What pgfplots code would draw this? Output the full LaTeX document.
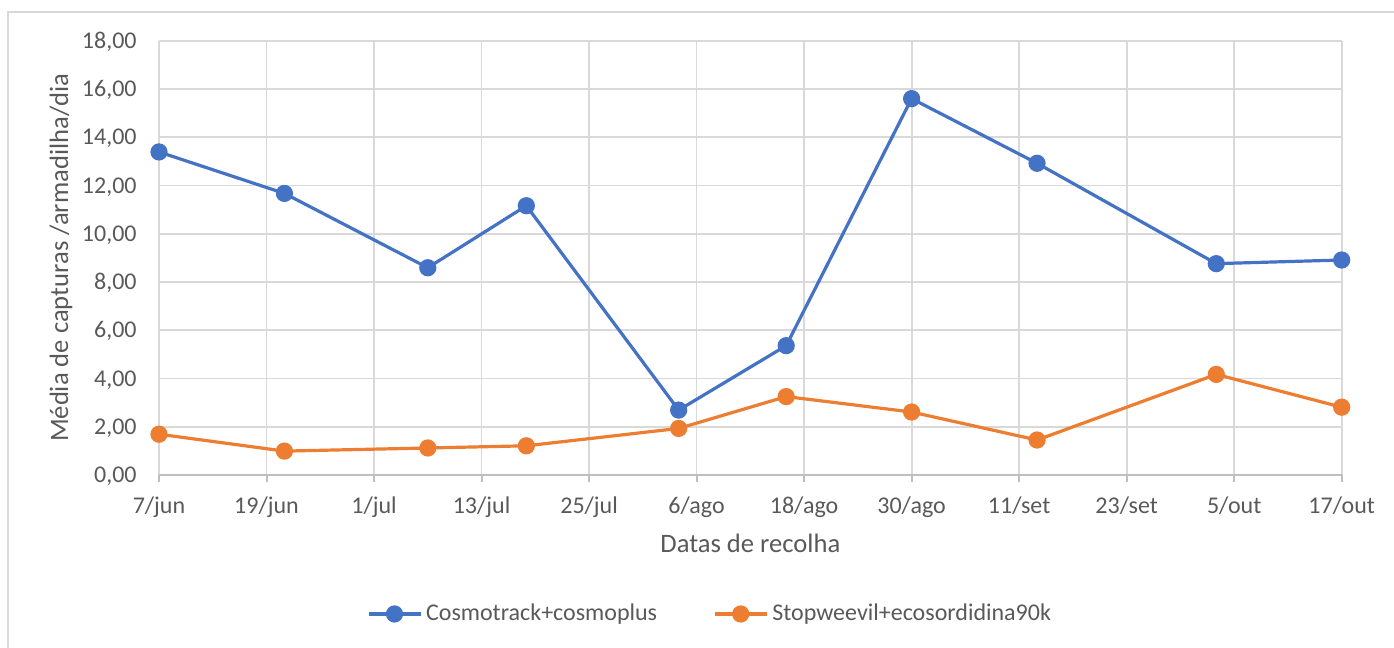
\documentclass[border=0pt]{standalone}
\usepackage{pgfplots}
\pgfplotsset{compat=1.18}
\usepackage{fontspec}
\setmainfont{Carlito}
\definecolor{cblue}{HTML}{4472C4}
\definecolor{corange}{HTML}{ED7D31}
\definecolor{gridc}{HTML}{D9D9D9}
\definecolor{axc}{HTML}{BFBFBF}
\definecolor{txt}{HTML}{595959}
\begin{document}
\begin{tikzpicture}
\useasboundingbox (-79.5pt,-86.5pt) rectangle (617.5pt,237.5pt);
\draw[gridc, line width=1pt] (-75.5pt,-86.5pt) -- (-75.5pt,231.5pt) -- (617.5pt,231.5pt);
\begin{axis}[
  at={(0,0)}, anchor=south west, scale only axis,
  width=591.35pt, height=217.15pt,
  xmin=0, xmax=132, ymin=0, ymax=18,
  axis x line*=bottom, axis y line*=left,
  x axis line style={draw=axc, line width=1pt, -},
  y axis line style={draw=none},
  xtick={0,12,...,132},
  xticklabels={7/jun,19/jun,1/jul,13/jul,25/jul,6/ago,18/ago,30/ago,11/set,23/set,5/out,17/out},
  ytick={0,2,...,18},
  tick align=outside,
  xtick style={draw=axc, line width=1pt},
  major tick length=3.5pt,
  ytick style={draw=none},
  grid=major,
  major grid style={draw=gridc, line width=0.9pt},
  /pgf/number format/.cd, fixed, fixed zerofill, precision=2, use comma, 1000 sep={}, assume math mode=true,
  /pgfplots/.cd,
  ticklabel style={font=\fontsize{12}{14}\selectfont, text=txt, inner sep=0pt},
  xticklabel style={anchor=base, yshift=-15.5pt},
  yticklabel style={anchor=base east, xshift=-7.5pt, yshift=-3.8pt},
  xlabel={Datas de recolha},
  ylabel={Média de capturas /armadilha/dia},
  every axis x label/.style={at={(axis description cs:0.5,-0.1796)}, anchor=base, font=\fontsize{13.3}{15}\selectfont, text=txt},
  every axis y label/.style={at={(axis description cs:-0.07694,0.5)}, rotate=90, anchor=base, font=\fontsize{13.3}{15}\selectfont, text=txt},
  legend columns=2,
  legend style={draw=none, fill=none, at={(axis description cs:0.4667,-0.32)}, anchor=center,
    font=\fontsize{12}{14}\selectfont, text=txt,
    /tikz/every even column/.append style={column sep=26pt}},
  legend image code/.code={\draw[mark repeat=2, mark phase=2, #1] plot coordinates {(0pt,0pt) (13pt,0pt) (26pt,0pt)};},
]
\addplot[color=cblue, line width=1.6pt, mark=*, mark size=3.5pt, mark options={solid}] coordinates {
(0,13.39) (14,11.67) (30,8.59) (41,11.16) (58,2.69) (70,5.36) (84,15.60) (98,12.92) (118,8.76) (132,8.91)
};
\addlegendentry{Cosmotrack+cosmoplus}
\addplot[color=corange, line width=1.6pt, mark=*, mark size=3.5pt, mark options={solid}] coordinates {
(0,1.69) (14,0.99) (30,1.12) (41,1.21) (58,1.93) (70,3.25) (84,2.61) (98,1.45) (118,4.17) (132,2.81)
};
\addlegendentry{Stopweevil+ecosordidina90k}
\end{axis}
\end{tikzpicture}
\end{document}
